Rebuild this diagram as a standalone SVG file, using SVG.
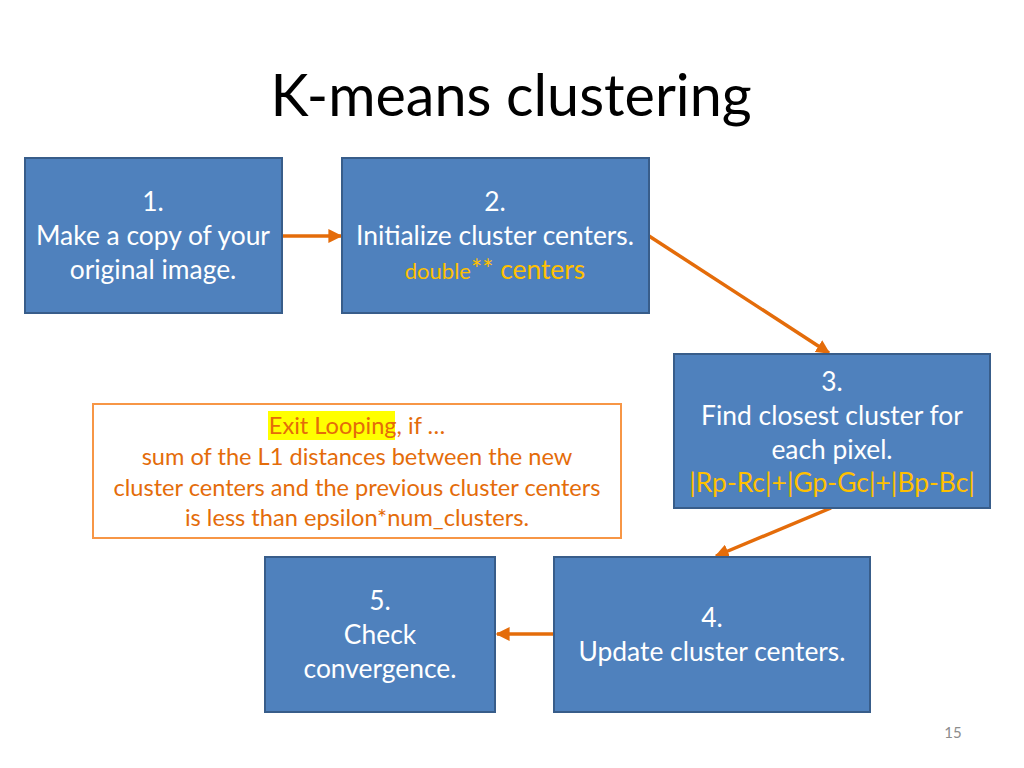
<svg xmlns="http://www.w3.org/2000/svg" width="1024" height="768" viewBox="0 0 1024 768">
<style>
.box{fill:#4F81BD;stroke:#385D8A;stroke-width:2}
.t{font-family:Lato,"Open Sans","Liberation Sans",sans-serif;font-size:26.4px;fill:#fff;text-anchor:middle}
.y{fill:#FFC000}
.o{font-family:Lato,"Open Sans","Liberation Sans",sans-serif;font-size:23.6px;fill:#E46C0A;text-anchor:middle}
.c{stroke:#E46C0A;stroke-width:3.5;fill:none;marker-end:url(#ah)}
</style>
<defs>
<marker id="ah" viewBox="0 0 10 10" refX="9" refY="5" markerWidth="4" markerHeight="4" orient="auto" markerUnits="strokeWidth">
<path d="M0,0 L10,5 L0,10 z" fill="#E46C0A"/>
</marker>
</defs>
<rect width="1024" height="768" fill="#fff"/>
<text x="511" y="116" font-family="Lato,'Open Sans','Liberation Sans',sans-serif" font-size="57.5" fill="#000" text-anchor="middle">K-means clustering</text>
<g id="connectors">
<line class="c" x1="282" y1="236" x2="341" y2="236"/>
<line class="c" x1="649" y1="236" x2="829" y2="353"/>
<line class="c" x1="831" y1="508" x2="716" y2="556"/>
<line class="c" x1="554" y1="634" x2="497" y2="634"/>
</g>
<g id="n1">
<rect class="box" x="25" y="158" width="257" height="155"/>
<text class="t" x="153" y="211">1.</text>
<text class="t" x="153" y="245">Make a copy of your</text>
<text class="t" x="153" y="279">original image.</text>
</g>
<g id="n2">
<rect class="box" x="342" y="158" width="307" height="155"/>
<text class="t" x="495" y="211">2.</text>
<text class="t" x="495" y="245">Initialize cluster centers.</text>
<text class="t y" x="495" y="279"><tspan font-size="22">double</tspan>** centers</text>
</g>
<g id="n3">
<rect class="box" x="674" y="354" width="316" height="154"/>
<text class="t" x="832" y="391">3.</text>
<text class="t" x="832" y="425">Find closest cluster for</text>
<text class="t" x="832" y="459">each pixel.</text>
<text class="t y" x="832" y="492" font-size="23.4">|Rp-Rc|+|Gp-Gc|+|Bp-Bc|</text>
</g>
<g id="n4">
<rect class="box" x="554" y="557" width="316" height="155"/>
<text class="t" x="712" y="627">4.</text>
<text class="t" x="712" y="661">Update cluster centers.</text>
</g>
<g id="n5">
<rect class="box" x="265" y="557" width="230" height="155"/>
<text class="t" x="380" y="610">5.</text>
<text class="t" x="380" y="644">Check</text>
<text class="t" x="380" y="678">convergence.</text>
</g>
<g id="exit">
<rect x="93" y="404" width="528" height="134" fill="#fff" stroke="#F79646" stroke-width="2"/>
<rect x="268" y="411" width="127" height="29" fill="#FFFF00"/>
<text class="o" x="357" y="434">Exit Looping, if …</text>
<text class="o" x="357" y="465">sum of the L1 distances between the new</text>
<text class="o" x="357" y="496">cluster centers and the previous cluster centers</text>
<text class="o" x="357" y="526">is less than epsilon*num_clusters.</text>
</g>
<text x="953" y="738" font-family="Lato,'Open Sans','Liberation Sans',sans-serif" font-size="15" fill="#8C8C8C" text-anchor="middle">15</text>
</svg>
